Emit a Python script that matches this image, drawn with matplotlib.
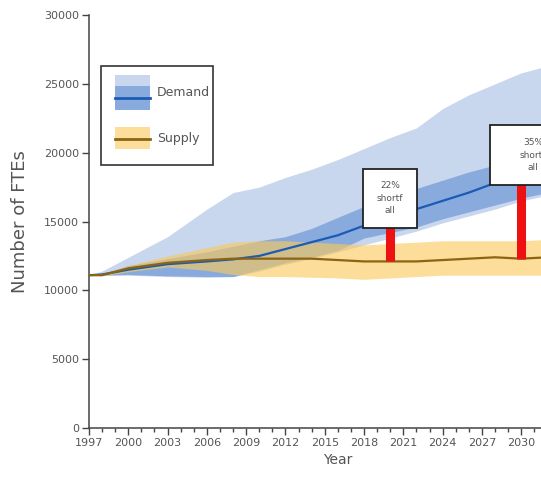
import numpy as np
import matplotlib
matplotlib.use('Agg')
from matplotlib import pyplot as plt
from matplotlib.patches import Rectangle
from matplotlib.lines import Line2D

# projected FTE workforce, demand vs supply with uncertainty bands
years = [1997, 1998, 2000, 2003, 2006, 2008, 2010, 2012, 2014, 2016,
         2018, 2020, 2022, 2024, 2026, 2028, 2030, 2032]

demand = [11100, 11150, 11500, 11900, 12100, 12250, 12500, 13000, 13500, 14000,
          14700, 15500, 15900, 16500, 17100, 17800, 18900, 19400]
demand_hi_outer = [11100, 11400, 12400, 13900, 15900, 17100, 17500, 18200, 18800, 19500,
                   20300, 21100, 21800, 23200, 24200, 25000, 25800, 26300]
demand_lo_outer = [11100, 11100, 11100, 11000, 10950, 11000, 11400, 11900, 12300, 12800,
                   13300, 13800, 14300, 14900, 15400, 15900, 16500, 16900]
demand_hi_inner = [11100, 11200, 11800, 12300, 12800, 13200, 13600, 13900, 14500, 15300,
                   16100, 16800, 17400, 18000, 18600, 19100, 19700, 20200]
demand_lo_inner = [11100, 11100, 11150, 11050, 11000, 11000, 11500, 12000, 12400, 12900,
                   13800, 14200, 14600, 15200, 15700, 16200, 16700, 17100]

supply = [11100, 11100, 11600, 12000, 12200, 12300, 12300, 12300, 12300, 12200,
          12100, 12100, 12100, 12200, 12300, 12400, 12300, 12400]
supply_hi = [11100, 11200, 11800, 12500, 13100, 13500, 13600, 13600, 13500, 13400,
             13300, 13400, 13500, 13600, 13600, 13600, 13600, 13700]
supply_lo = [11100, 11050, 11350, 11700, 11450, 11150, 11000, 11000, 10950, 10900,
             10800, 10900, 11000, 11100, 11100, 11100, 11100, 11100]

shortfall_years = [2020, 2030]

grey = '#555555'
plt.rcParams['font.family'] = ['DejaVu Sans']

fig = plt.figure(figsize=(5.41, 4.83), dpi=100)
ax = fig.add_axes([0.1645, 0.1139, 0.920, 0.855])

ax.fill_between(years, demand_lo_outer, demand_hi_outer, color='#c8d6ee', lw=0, zorder=1)
ax.fill_between(years, demand_lo_inner, demand_hi_inner, color='#89aadc', lw=0, zorder=2)
ax.fill_between(years, supply_lo, supply_hi, color='#fbc95a', alpha=0.62, lw=0, zorder=3)
ax.plot(years, demand, color='#1a5bb5', lw=1.6, zorder=4)
ax.plot(years, supply, color='#8b6414', lw=1.6, zorder=5)

# shortfall bars with callout boxes
box_left = [-2.05, -2.4]
box_width = [4.1, 6.6]
box_bottom = [14500, 17650]
for yr, dx, w, bottom in zip(shortfall_years, box_left, box_width, box_bottom):
    d = np.interp(yr, years, demand)
    s = np.interp(yr, years, supply)
    pct = round(100 * (d - s) / d)
    ax.plot([yr, yr], [s, d], color='#ee1111', lw=6.5, solid_capstyle='butt', zorder=6)
    ax.add_patch(Rectangle((yr + dx, bottom), w, 4350, facecolor='white',
                           edgecolor='#222222', lw=1.3, zorder=7))
    ax.text(yr + dx + w / 2, bottom + 2175, f'{pct}%\nshortf\nall', ha='center', va='center',
            fontsize=6.5, color=grey, linespacing=1.5, zorder=8)

ax.set_xlim(1997, 2035)
ax.set_ylim(0, 30000)
ax.set_xticks(np.arange(1997, 2036, 3))
ax.set_xticks(np.arange(1997, 2036, 1), minor=True)
ax.set_yticks(np.arange(0, 30001, 5000))
ax.tick_params(axis='both', which='major', length=5, width=1, color='#444444',
               labelsize=8, labelcolor=grey, pad=2)
ax.tick_params(axis='x', which='minor', length=3, width=1, color='#444444')
for side in ['top', 'right']:
    ax.spines[side].set_visible(False)
for side in ['left', 'bottom']:
    ax.spines[side].set_color('#444444')
    ax.spines[side].set_linewidth(1.1)

ax.set_xlabel('Year', fontsize=10, color=grey, labelpad=4)
ax.set_ylabel('Number of FTEs', fontsize=13, color=grey, labelpad=11)

# legend drawn by hand in axes fraction
tr = ax.transAxes
ax.add_patch(Rectangle((0.024, 0.637), 0.225, 0.24, transform=tr, facecolor='white',
                       edgecolor='#333333', lw=1.2, zorder=9))
ax.add_patch(Rectangle((0.052, 0.770), 0.070, 0.085, transform=tr, facecolor='#c8d6ee',
                       lw=0, zorder=10))
ax.add_patch(Rectangle((0.052, 0.770), 0.070, 0.058, transform=tr, facecolor='#89aadc',
                       lw=0, zorder=11))
ax.add_line(Line2D([0.052, 0.122], [0.800, 0.800], transform=tr, color='#1a5bb5',
                   lw=2, zorder=12))
ax.add_patch(Rectangle((0.052, 0.675), 0.070, 0.053, transform=tr, facecolor='#fbc95a',
                       alpha=0.62, lw=0, zorder=10))
ax.add_line(Line2D([0.052, 0.122], [0.700, 0.700], transform=tr, color='#8b6414',
                   lw=2, zorder=12))
ax.text(0.136, 0.812, 'Demand', transform=tr, fontsize=9, color=grey, va='center', zorder=12)
ax.text(0.136, 0.700, 'Supply', transform=tr, fontsize=9, color=grey, va='center', zorder=12)

plt.savefig('out.png', dpi=100)
